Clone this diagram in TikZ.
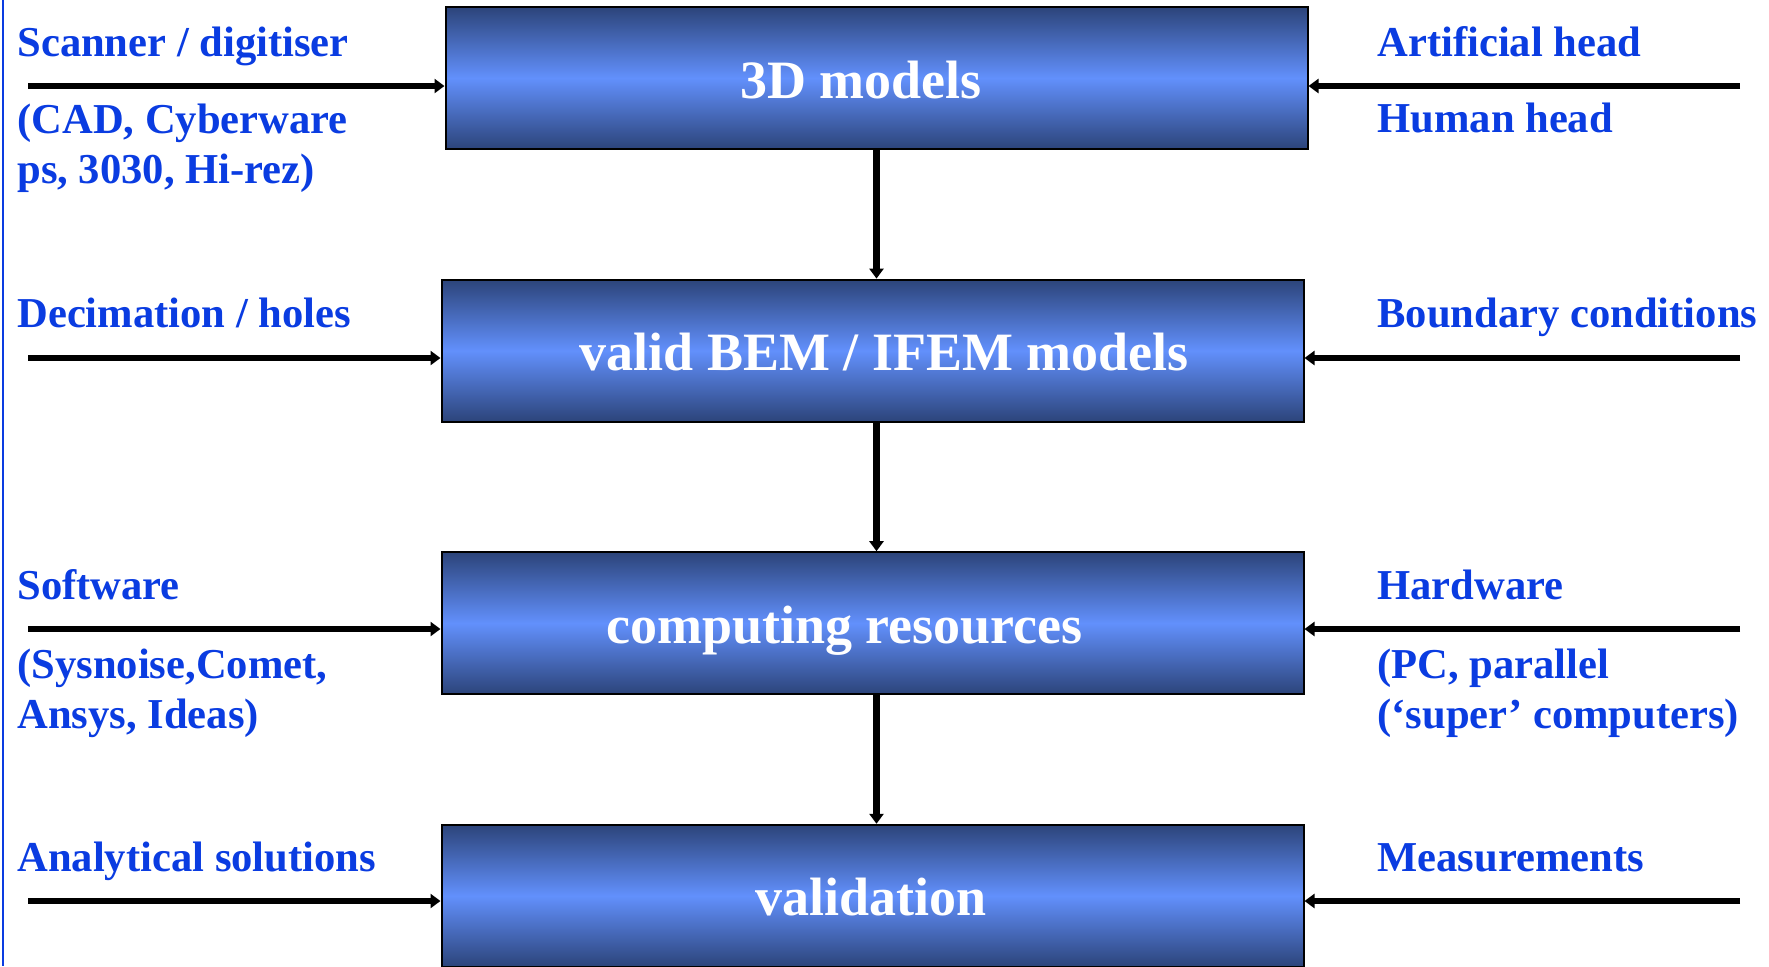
\documentclass[tikz,border=0pt]{standalone}
\usepackage{fontspec}
\setmainfont{Liberation Serif}
\usepackage{tikz}
\usetikzlibrary{positioning,arrows.meta}
\definecolor{labelblue}{RGB}{10,60,225}
\definecolor{boxdark}{RGB}{44,68,122}
\definecolor{boxlight}{RGB}{98,144,252}

\begin{document}
\begin{tikzpicture}[x=0.5pt,y=-0.5pt,node distance=64.3pt,
  stage/.style={draw=black, line width=1pt, rectangle, inner sep=0pt,
    minimum width=431pt, minimum height=71pt,
    top color=boxdark, bottom color=boxdark, middle color=boxlight},
  stagetext/.style={text=white, font=\fontsize{27}{30}\selectfont\bfseries, anchor=base},
  side/.style={text=labelblue, font=\fontsize{21.3}{25}\selectfont\bfseries,
    anchor=base west, align=left, inner sep=0pt},
  feed/.style={line width=3.3pt, -{Triangle[length=5pt,width=7pt]}},
  flow/.style={line width=3.3pt, -{Triangle[length=5pt,width=7pt]}}]
\useasboundingbox (0,0) rectangle (1769,966);
% margin rule on the left
\draw[labelblue, line width=1pt] (3,0) -- (3,966);

% the four stages
\node[stage] (models) at (876.5,78) {};
\node[stage, below=of models, xshift=-2pt] (bem) {};
\node[stage, below=of bem] (comp) {};
\node[stage, below=of comp] (valid) {};
\node[stagetext] (modelstxt) at ([xshift=-7.75pt,yshift=-10pt]models.center) {3D models};
\node[stagetext] (bemtxt) at ([xshift=5.75pt,yshift=-10pt]bem.center) {valid BEM / IFEM models};
\node[stagetext] (comptxt) at ([xshift=-14pt,yshift=-10pt]comp.center) {computing resources};
\node[stagetext] (validtxt) at ([xshift=-0.75pt,yshift=-10pt]valid.center) {validation};

% inputs, left side (two-line labels sit on their last baseline)
\node[side] (scanner) at (17,56) {Scanner / digitiser};
\node[side] (cad) at (17,183) {(CAD, Cyberware\\ps, 3030, Hi-rez)};
\node[side] (decim) at (17,327) {Decimation / holes};
\node[side] (software) at (17,599) {Software};
\node[side] (sysnoise) at (17,728) {(Sysnoise,Comet,\\Ansys, Ideas)};
\node[side] (analytic) at (17,871) {Analytical solutions};

% inputs, right side
\node[side] (artificial) at (1377,56) {Artificial head};
\node[side] (human) at (1377,132) {Human head};
\node[side] (boundary) at (1377,327) {Boundary conditions};
\node[side] (hardware) at (1377,599) {Hardware};
\node[side] (pc) at (1377,728) {(PC, parallel\\(`super' computers)};
\node[side] (measure) at (1377,871) {Measurements};

\coordinate (modelsL) at (28,86);
\coordinate (modelsR) at (1740,86);
\coordinate (bemL) at (28,358);
\coordinate (bemR) at (1740,358);
\coordinate (compL) at (28,629);
\coordinate (compR) at (1740,629);
\coordinate (validL) at (28,901);
\coordinate (validR) at (1740,901);

\draw[feed] (modelsL) -- (modelsL -| models.west);
\draw[feed] (modelsR) -- (modelsR -| models.east);
\draw[feed] (bemL) -- (bemL -| bem.west);
\draw[feed] (bemR) -- (bemR -| bem.east);
\draw[feed] (compL) -- (compL -| comp.west);
\draw[feed] (compR) -- (compR -| comp.east);
\draw[feed] (validL) -- (validL -| valid.west);
\draw[feed] (validR) -- (validR -| valid.east);

\draw[flow] (models.south) -- (models.south |- bem.north);
\draw[flow] (models.south |- bem.south) -- (models.south |- comp.north);
\draw[flow] (models.south |- comp.south) -- (models.south |- valid.north);
\end{tikzpicture}
\end{document}
